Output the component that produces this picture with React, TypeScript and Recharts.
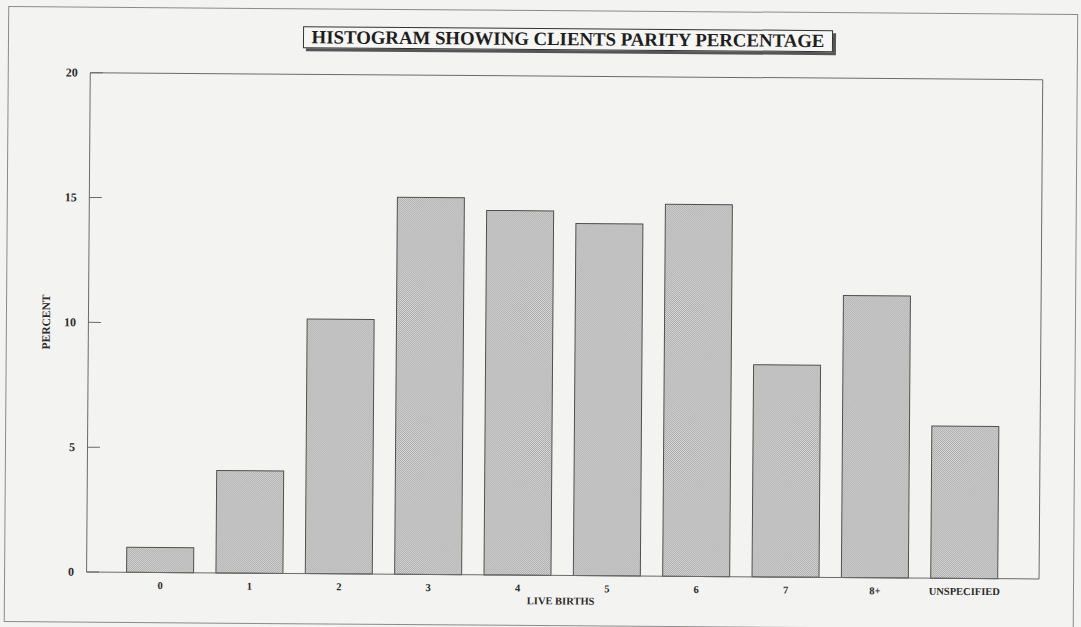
import React from 'react';
import { BarChart, Bar, XAxis, YAxis } from 'recharts';

// Parity categories (number of live births) and the share of clients in each
const categories = ['0', '1', '2', '3', '4', '5', '6', '7', '8+', 'UNSPECIFIED'];
const percents = [1.0, 4.1, 10.2, 15.1, 14.6, 14.1, 14.9, 8.5, 11.3, 6.1];
const yTicks = [0, 5, 10, 15, 20];

const title = 'HISTOGRAM SHOWING CLIENTS PARITY PERCENTAGE';
const xTitle = 'LIVE BIRTHS';
const yTitle = 'PERCENT';

const data = categories.map((c, i) => ({ births: c, percent: percents[i] }));

const FONT = '"Liberation Serif", "Times New Roman", serif';
const INK = '#2a2a2a';
const LINE = '#6a6a6a';

// Left-axis tick: bold label plus a short tick mark that points into the plot
const YTick = (props: any) => {
  const { x, y, payload } = props;
  return (
    <g>
      <line x1={x + 12.5} y1={y} x2={x + 25} y2={y} stroke={LINE} strokeWidth={1} />
      <text x={x} y={y} dy={4} textAnchor="end" fontFamily={FONT} fontWeight="bold" fontSize={12} fill={INK}>
        {payload.value}
      </text>
    </g>
  );
};

const XTick = (props: any) => {
  const { x, y, payload } = props;
  return (
    <text x={x} y={y} dy={7.5} textAnchor="middle" fontFamily={FONT} fontWeight="bold" fontSize={10.5} fill={INK}>
      {payload.value}
    </text>
  );
};

const YLabel = (props: any) => {
  const vb = props.viewBox || {};
  const cx = vb.x + 17.5;
  const cy = vb.y + vb.height / 2;
  return (
    <text
      x={cx}
      y={cy}
      transform={`rotate(-90 ${cx} ${cy})`}
      textAnchor="middle"
      dominantBaseline="central"
      fontFamily={FONT}
      fontWeight="bold"
      fontSize={11.5}
      fill={INK}
    >
      {yTitle}
    </text>
  );
};

export default function App() {
  return (
    <div
      style={{
        position: 'absolute',
        left: 0,
        top: 0,
        width: 1081,
        height: 627,
        overflow: 'hidden',
        background: '#f3f3f1',
      }}
    >
      <svg width={0} height={0} style={{ position: 'absolute' }}>
        <defs>
          <pattern id="stipple" width={2} height={2} patternUnits="userSpaceOnUse">
            <rect width={2} height={2} fill="#d8d8d8" />
            <rect x={0} y={0} width={1} height={1} fill="#a9a9a9" />
            <rect x={1} y={1} width={1} height={1} fill="#a9a9a9" />
          </pattern>
        </defs>
      </svg>
      <div
        style={{
          position: 'absolute',
          left: 0,
          top: 0,
          width: 1081,
          height: 627,
          transform: 'rotate(0.42deg)',
          transformOrigin: '540px 313px',
        }}
      >
        {/* page frame */}
        <div
          style={{
            position: 'absolute',
            left: 6,
            top: 10,
            width: 1070,
            height: 616,
            border: '1px solid #8a8a8a',
            boxSizing: 'border-box',
          }}
        />
        {/* boxed title with drop shadow */}
        <div
          style={{
            position: 'absolute',
            left: 301,
            top: 28,
            width: 530,
            height: 22,
            border: '1px solid #333',
            boxSizing: 'border-box',
            boxShadow: '3px 3px 0 #555',
            background: '#f6f6f4',
            fontFamily: FONT,
            fontWeight: 'bold',
            fontSize: 18.8,
            lineHeight: '20px',
            color: '#1e1e1e',
            textAlign: 'center',
            whiteSpace: 'nowrap',
          }}
        >
          {title}
        </div>
        <div style={{ position: 'absolute', left: 0, top: 0 }}>
          <BarChart
            width={1081}
            height={627}
            data={data}
            margin={{ top: 75, right: 39, bottom: 21.7, left: 28.5 }}
          >
            <XAxis
              dataKey="births"
              height={30}
              padding={{ left: 29, right: 30 }}
              axisLine={{ stroke: LINE, strokeWidth: 1 }}
              tickLine={false}
              tickSize={0}
              tickMargin={9}
              tick={<XTick />}
              interval={0}
              label={{
                value: xTitle,
                position: 'insideBottom',
                offset: 1,
                dx: -2,
                fontFamily: FONT,
                fontWeight: 'bold',
                fontSize: 10.5,
                fill: INK,
              }}
            />
            {/* top and right edges of the plot frame */}
            <XAxis
              xAxisId="top"
              orientation="top"
              dataKey="births"
              height={1}
              tick={false}
              tickLine={false}
              axisLine={{ stroke: LINE, strokeWidth: 1 }}
            />
            <YAxis
              width={60}
              domain={[0, 20]}
              ticks={yTicks}
              interval={0}
              axisLine={{ stroke: LINE, strokeWidth: 1 }}
              tickLine={false}
              tickSize={0}
              tickMargin={12.5}
              tick={<YTick />}
              label={<YLabel />}
            />
            <YAxis
              yAxisId="right"
              orientation="right"
              width={1}
              domain={[0, 20]}
              tick={false}
              tickLine={false}
              axisLine={{ stroke: LINE, strokeWidth: 1 }}
            />
            <Bar
              dataKey="percent"
              fill="url(#stipple)"
              stroke="#505050"
              strokeWidth={1}
              barSize={67}
              isAnimationActive={false}
            />
          </BarChart>
        </div>
      </div>
    </div>
  );
}
